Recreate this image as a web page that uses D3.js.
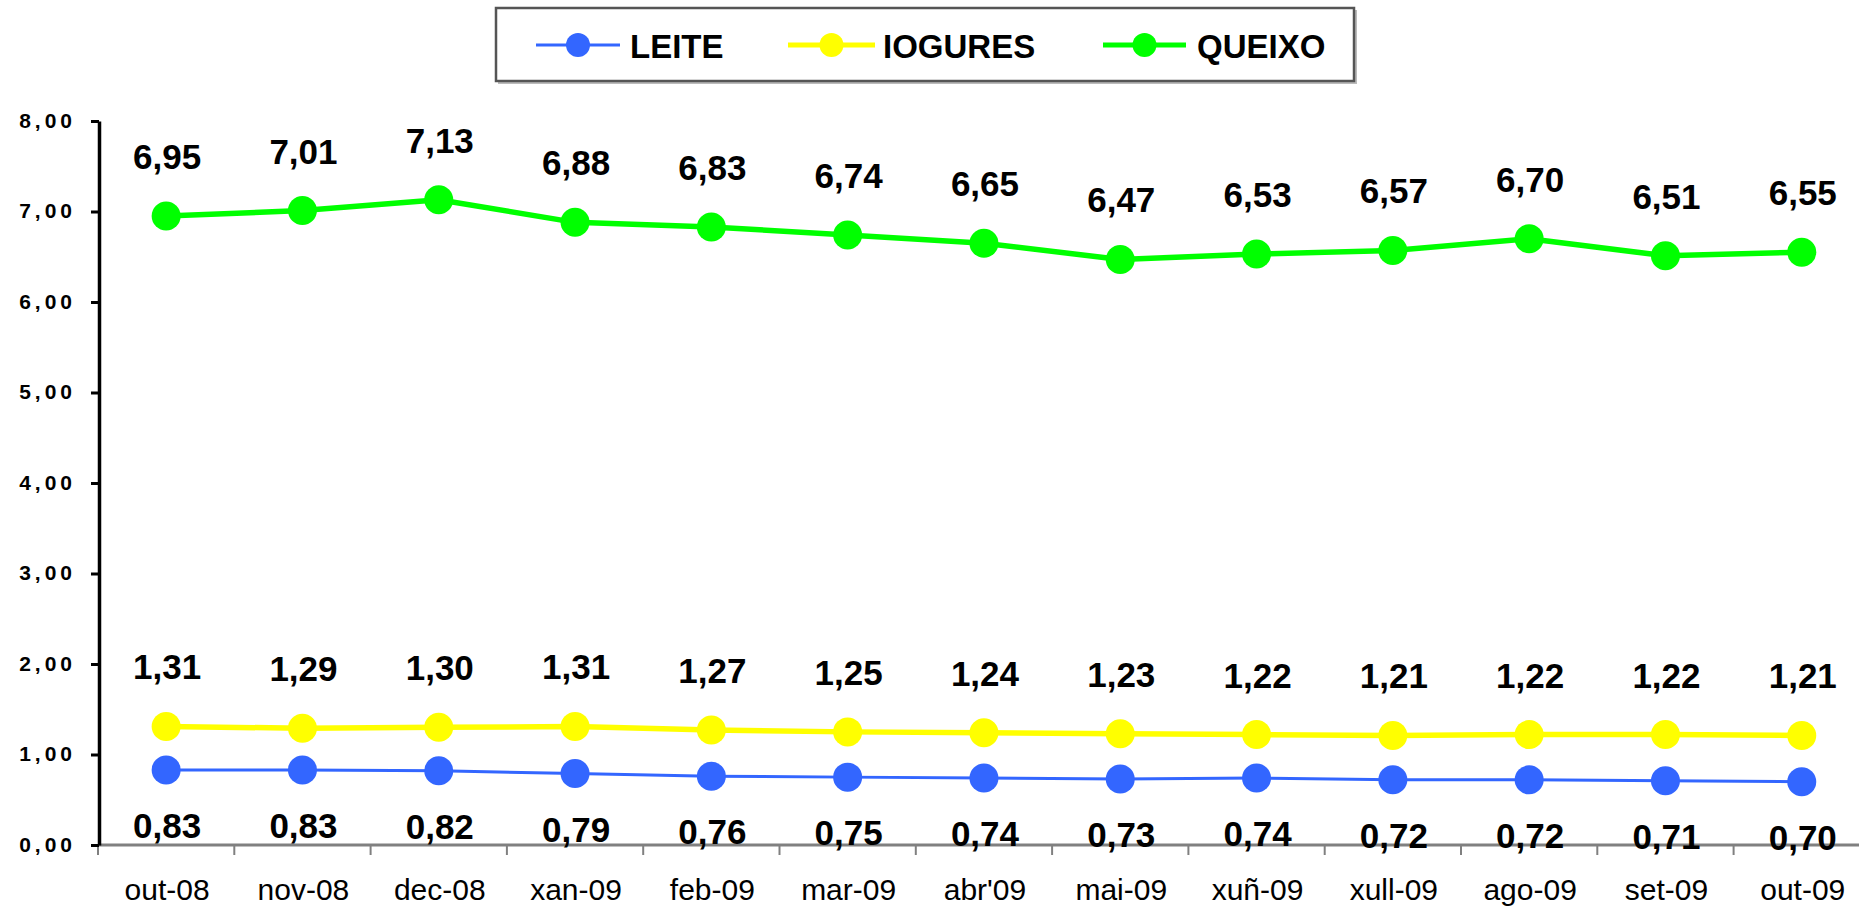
<!DOCTYPE html>
<html>
<head>
<meta charset="utf-8">
<script src="https://cdn.jsdelivr.net/npm/d3@7"></script>
<style>
  html, body { margin: 0; padding: 0; background: #fff; }
  svg { display: block; font-family: "Liberation Sans", Arial, sans-serif; }
</style>
</head>
<body>
<svg id="chart" width="1859" height="908"></svg>
<script>
// Monthly average prices (€) of dairy products
const months = ["out-08", "nov-08", "dec-08", "xan-09", "feb-09", "mar-09", "abr'09",
                "mai-09", "xuñ-09", "xull-09", "ago-09", "set-09", "out-09"];
const leite   = [0.83, 0.83, 0.82, 0.79, 0.76, 0.75, 0.74, 0.73, 0.74, 0.72, 0.72, 0.71, 0.70];
const iogures = [1.31, 1.29, 1.30, 1.31, 1.27, 1.25, 1.24, 1.23, 1.22, 1.21, 1.22, 1.22, 1.21];
const queixo  = [6.95, 7.01, 7.13, 6.88, 6.83, 6.74, 6.65, 6.47, 6.53, 6.57, 6.70, 6.51, 6.55];
const yTicks  = [0, 1, 2, 3, 4, 5, 6, 7, 8];
const seriesNames = ["LEITE", "IOGURES", "QUEIXO"];

const series = [
  { name: seriesNames[0], values: leite,   color: "#3366FF", width: 3, labelPos: "below" },
  { name: seriesNames[1], values: iogures, color: "#FFFF00", width: 5.5, labelPos: "above" },
  { name: seriesNames[2], values: queixo,  color: "#00FF00", width: 5.5, labelPos: "above" }
];

const svg = d3.select("#chart");
const fmt = v => d3.format(".2f")(v).replace(".", ",");

const left = 98, band = 136.3;
const x = d3.scaleBand().domain(months).range([left, left + band * months.length]).padding(0);
const y = d3.scaleLinear().domain([0, 8]).range([845, 121]);
const cx = d => x(d) + x.bandwidth() / 2;

// X axis: gray baseline with ticks on the category boundaries
const xg = svg.append("g");
xg.append("line")
  .attr("x1", left).attr("x2", x.range()[1])
  .attr("y1", y(0)).attr("y2", y(0))
  .attr("stroke", "#808080").attr("stroke-width", 3);
xg.selectAll("line.tick")
  .data(months)
  .join("line")
  .attr("class", "tick")
  .attr("x1", d => x(d)).attr("x2", d => x(d))
  .attr("y1", y(0)).attr("y2", y(0) + 10)
  .attr("stroke", "#808080").attr("stroke-width", 2);
xg.selectAll("text")
  .data(months)
  .join("text")
  .attr("x", d => cx(d) + 1)
  .attr("y", 900)
  .attr("text-anchor", "middle")
  .attr("font-size", 30)
  .attr("fill", "#000")
  .text(d => d);

// Y axis
const yAxis = d3.axisLeft(y).tickValues(yTicks).tickSize(8).tickSizeOuter(0).tickPadding(15)
  .tickFormat(fmt);
const yg = svg.append("g").attr("transform", `translate(${left + 1},0)`).call(yAxis);
yg.select(".domain").attr("stroke", "#000").attr("stroke-width", 3.5);
yg.selectAll(".tick line").attr("stroke", "#000").attr("stroke-width", 3);
yg.selectAll(".tick text")
  .attr("font-family", "'Liberation Sans', Arial, sans-serif")
  .attr("font-size", 21).attr("font-weight", "bold")
  .attr("letter-spacing", "4px").attr("fill", "#000")
  .attr("dy", "0.3em");

// Lines, markers and value labels
const line = d3.line().x((d, i) => cx(months[i])).y(d => y(d));
series.forEach(s => {
  const g = svg.append("g");
  g.append("path")
    .datum(s.values)
    .attr("d", line)
    .attr("fill", "none")
    .attr("stroke", s.color)
    .attr("stroke-width", s.width)
    .attr("stroke-linejoin", "round");
  g.selectAll("circle")
    .data(s.values)
    .join("circle")
    .attr("cx", (d, i) => cx(months[i]))
    .attr("cy", d => y(d))
    .attr("r", 14.5)
    .attr("fill", s.color);
  g.selectAll("text")
    .data(s.values)
    .join("text")
    .attr("x", (d, i) => cx(months[i]) + 1)
    .attr("y", d => s.labelPos === "above" ? y(d) - 47 : y(d) + 68)
    .attr("text-anchor", "middle")
    .attr("font-size", 35)
    .attr("font-weight", "bold")
    .attr("fill", "#000")
    .text(d => fmt(d));
});

// Legend
const lg = svg.append("g");
lg.append("rect")
  .attr("x", 498).attr("y", 10).attr("width", 859).attr("height", 74)
  .attr("fill", "#bbb");
lg.append("rect")
  .attr("x", 496).attr("y", 8).attr("width", 858).attr("height", 73)
  .attr("fill", "#fff").attr("stroke", "#555").attr("stroke-width", 2.5);
const legendItems = [
  { s: series[0], x0: 536, x1: 620, tx: 630 },
  { s: series[1], x0: 788, x1: 875, tx: 883 },
  { s: series[2], x0: 1103, x1: 1186, tx: 1197 }
];
legendItems.forEach(it => {
  lg.append("line")
    .attr("x1", it.x0).attr("x2", it.x1).attr("y1", 45).attr("y2", 45)
    .attr("stroke", it.s.color).attr("stroke-width", it.s.width === 3 ? 3 : 5);
  lg.append("circle")
    .attr("cx", (it.x0 + it.x1) / 2).attr("cy", 45).attr("r", 12)
    .attr("fill", it.s.color);
  lg.append("text")
    .attr("x", it.tx).attr("y", 57.5)
    .attr("font-size", 33).attr("font-weight", "bold").attr("fill", "#000")
    .text(it.s.name);
});
</script>
</body>
</html>
